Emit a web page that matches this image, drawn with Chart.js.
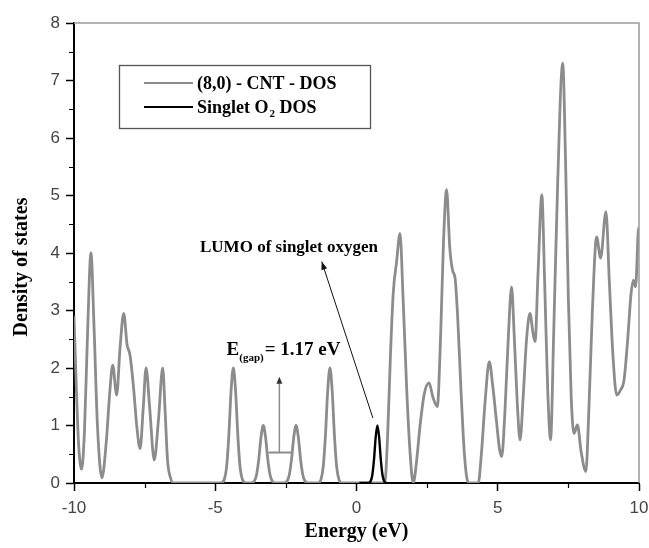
<!DOCTYPE html>
<html>
<head>
<meta charset="utf-8">
<script src="https://cdn.jsdelivr.net/npm/chart.js@4"></script>
<style>
  html, body { margin: 0; padding: 0; background: #fff; }
  #wrap { width: 649px; height: 548px; }
</style>
</head>
<body>
<div id="wrap"><canvas id="dosChart"></canvas></div>
<script>
// (8,0) CNT density of states
var cntEnergy = [
  -10.00, -9.92, -9.84, -9.73, -9.63, -9.52, -9.40, -9.29, -9.17, -9.01,
  -8.86, -8.73, -8.63, -8.49, -8.37, -8.24, -8.12, -8.02, -7.90, -7.77,
  -7.66, -7.55, -7.45, -7.32, -7.16, -7.01, -6.86, -6.77, -6.69, -6.59,
  -6.48,
  -4.80, -4.68, -4.60, -4.52, -4.44, -4.36, -4.28, -4.20, -4.12, -4.04, -3.92,
  -3.72, -3.62, -3.54, -3.46, -3.38, -3.30, -3.22, -3.14, -3.06, -2.98, -2.88,
  -2.56, -2.46, -2.38, -2.30, -2.22, -2.14, -2.06, -1.98, -1.90, -1.82, -1.72,
  -1.36, -1.26, -1.18, -1.10, -1.02, -0.94, -0.86, -0.78, -0.70, -0.62, -0.52,
  1.00, 1.10, 1.20, 1.30, 1.42, 1.54, 1.65, 1.78, 1.90, 2.01,
  2.12, 2.25, 2.40, 2.57, 2.70, 2.86, 2.98, 3.08, 3.19, 3.30,
  3.40, 3.49, 3.58, 3.70, 3.82, 3.96, 4.31, 4.42, 4.55, 4.70,
  4.82, 4.95, 5.06, 5.14, 5.25, 5.38, 5.49, 5.58, 5.69, 5.79,
  5.90, 6.02, 6.14, 6.25, 6.32, 6.43, 6.56, 6.66, 6.77, 6.87,
  6.98, 7.12, 7.30, 7.40, 7.50, 7.60, 7.70, 7.82, 7.95, 8.12,
  8.22, 8.35, 8.50, 8.64, 8.83, 8.95, 9.08, 9.21, 9.35, 9.47,
  9.60, 9.72, 9.80, 9.88, 9.97, 10.00
];
var cntDos = [
  2.90, 1.70, 0.70, 0.24, 0.90, 2.60, 4.00, 2.70, 1.00, 0.09,
  0.70, 1.60, 2.05, 1.53, 2.35, 2.95, 2.40, 2.23, 1.70, 0.95,
  0.60, 1.30, 2.00, 1.30, 0.40, 1.10, 2.00, 1.20, 0.40, 0.10,
  0.00,
  0.00, 0.06, 0.27, 0.82, 1.60, 2.00, 1.60, 0.82, 0.27, 0.06, 0.00,
  0.00, 0.03, 0.14, 0.41, 0.80, 1.00, 0.80, 0.41, 0.14, 0.03, 0.00,
  0.00, 0.03, 0.14, 0.41, 0.80, 1.00, 0.80, 0.41, 0.14, 0.03, 0.00,
  0.00, 0.06, 0.27, 0.82, 1.60, 2.00, 1.60, 0.82, 0.27, 0.06, 0.00,
  0.00, 0.80, 2.20, 3.30, 3.85, 4.34, 3.20, 1.60, 0.50, 0.00,
  0.35, 1.00, 1.55, 1.74, 1.50, 1.33, 2.60, 4.20, 5.10, 4.10,
  3.70, 3.56, 2.90, 1.60, 0.50, 0.00, 0.00, 0.50, 1.40, 2.11,
  1.70, 1.10, 0.60, 0.46, 1.20, 2.60, 3.41, 2.60, 1.40, 0.75,
  1.50, 2.50, 2.95, 2.60, 2.46, 3.70, 5.01, 3.50, 1.60, 0.75,
  2.60, 5.20, 7.30, 5.60, 3.20, 1.50, 0.86, 1.01, 0.55, 0.20,
  1.20, 3.00, 4.28, 3.91, 4.72, 3.50, 2.20, 1.53, 1.62, 1.79,
  2.50, 3.30, 3.53, 3.41, 4.35, 4.45
];

// singlet O2 DOS (LUMO peak)
var o2Energy = [0.10, 0.42, 0.50, 0.56, 0.62, 0.68, 0.74, 0.80, 0.86, 0.92, 0.98, 1.06];
var o2Dos = [0.00, 0.00, 0.03, 0.14, 0.41, 0.80, 1.00, 0.80, 0.41, 0.14, 0.03, 0.00];

var xTicks = [-10, -5, 0, 5, 10];
var yTicks = [0, 1, 2, 3, 4, 5, 6, 7, 8];
var xMinorTicks = [-7.5, -2.5, 2.5, 7.5];
var yMinorTicks = [0.5, 1.5, 2.5, 3.5, 4.5, 5.5, 6.5, 7.5];

var seriesNames = ["(8,0) - CNT - DOS", "Singlet O", "2", " DOS"];
var gapLabel = ["E", "(gap)", "= 1.17 eV"];
var lumoLabel = "LUMO of singlet oxygen";

var gray = "#8c8c8c";
var serif = "'Liberation Serif', 'Times New Roman', serif";

function toPoints(xs, ys) {
  return xs.map(function (x, i) {
    return { x: x, y: ys[i] };
  });
}

function arrowHead(ctx, x1, y1, x2, y2, len, half) {
  var ang = Math.atan2(y2 - y1, x2 - x1);
  ctx.beginPath();
  ctx.moveTo(x2, y2);
  ctx.lineTo(x2 - len * Math.cos(ang) + half * Math.sin(ang), y2 - len * Math.sin(ang) - half * Math.cos(ang));
  ctx.lineTo(x2 - len * Math.cos(ang) - half * Math.sin(ang), y2 - len * Math.sin(ang) + half * Math.cos(ang));
  ctx.closePath();
  ctx.fill();
}

// frame, minor ticks, legend, axis titles and the two annotations
var extras = {
  id: "extras",
  afterDraw: function (chart) {
    var ctx = chart.ctx;
    var a = chart.chartArea;
    var xs = chart.scales.x;
    var ys = chart.scales.y;
    ctx.save();

    // top / right frame
    ctx.strokeStyle = "#9a9a9a";
    ctx.lineWidth = 1.5;
    ctx.beginPath();
    ctx.moveTo(a.left, a.top);
    ctx.lineTo(a.right, a.top);
    ctx.lineTo(a.right, a.bottom);
    ctx.stroke();

    // minor ticks
    ctx.strokeStyle = "#000";
    ctx.lineWidth = 1.2;
    ctx.beginPath();
    xMinorTicks.forEach(function (v) {
      var px = Math.round(xs.getPixelForValue(v)) + 0.5;
      ctx.moveTo(px, a.bottom);
      ctx.lineTo(px, a.bottom + 5);
    });
    yMinorTicks.forEach(function (v) {
      var py = Math.round(ys.getPixelForValue(v)) + 0.5;
      ctx.moveTo(a.left, py);
      ctx.lineTo(a.left - 5, py);
    });
    ctx.stroke();

    // axis titles
    ctx.fillStyle = "#000";
    ctx.font = "bold 20px " + serif;
    ctx.textAlign = "center";
    ctx.textBaseline = "middle";
    ctx.fillText("Energy (eV)", (a.left + a.right) / 2, 532);
    ctx.save();
    ctx.translate(22, 267);
    ctx.rotate(-Math.PI / 2);
    ctx.fillText("Density of states", 0, 0);
    ctx.restore();

    // legend box
    var lx = a.left + 45, ly = a.top + 42;
    ctx.fillStyle = "#fff";
    ctx.fillRect(lx, ly, 251, 63);
    ctx.strokeStyle = "#555";
    ctx.lineWidth = 1.3;
    ctx.strokeRect(lx + 0.5, ly + 0.5, 251, 63);
    ctx.lineWidth = 2;
    ctx.strokeStyle = gray;
    ctx.beginPath();
    ctx.moveTo(lx + 25, ly + 18);
    ctx.lineTo(lx + 74, ly + 18);
    ctx.stroke();
    ctx.strokeStyle = "#000";
    ctx.beginPath();
    ctx.moveTo(lx + 25, ly + 42);
    ctx.lineTo(lx + 74, ly + 42);
    ctx.stroke();
    ctx.fillStyle = "#000";
    ctx.textAlign = "left";
    ctx.textBaseline = "alphabetic";
    ctx.font = "bold 18px " + serif;
    ctx.fillText(seriesNames[0], lx + 78, ly + 24);
    var tx = lx + 78;
    ctx.fillText(seriesNames[1], tx, ly + 48);
    tx += ctx.measureText(seriesNames[1]).width;
    ctx.font = "bold 11px " + serif;
    ctx.fillText(seriesNames[2], tx + 1, ly + 52);
    tx += ctx.measureText(seriesNames[2]).width + 1;
    ctx.font = "bold 18px " + serif;
    ctx.fillText(seriesNames[3], tx, ly + 48);

    // E(gap) bracket and arrow
    var bx1 = xs.getPixelForValue(-3.12), bx2 = xs.getPixelForValue(-2.29);
    var by = ys.getPixelForValue(0.53);
    var ax = xs.getPixelForValue(-2.73), ay = ys.getPixelForValue(1.85);
    ctx.strokeStyle = gray;
    ctx.lineWidth = 2;
    ctx.beginPath();
    ctx.moveTo(bx1, by);
    ctx.lineTo(bx2, by);
    ctx.stroke();
    ctx.lineWidth = 1.5;
    ctx.beginPath();
    ctx.moveTo(ax, by);
    ctx.lineTo(ax, ay + 5);
    ctx.stroke();
    ctx.fillStyle = "#333";
    arrowHead(ctx, ax, by, ax, ay, 7, 3);

    // E(gap) label
    ctx.fillStyle = "#000";
    var gx = xs.getPixelForValue(-4.6), gy = ys.getPixelForValue(2.23);
    ctx.font = "bold 19px " + serif;
    ctx.fillText(gapLabel[0], gx, gy);
    gx += ctx.measureText(gapLabel[0]).width;
    ctx.font = "bold 11px " + serif;
    ctx.fillText(gapLabel[1], gx, gy + 6);
    gx += ctx.measureText(gapLabel[1]).width + 1;
    ctx.font = "bold 19px " + serif;
    ctx.fillText(gapLabel[2], gx, gy);

    // LUMO label and arrow
    ctx.font = "bold 17px " + serif;
    ctx.fillText(lumoLabel, xs.getPixelForValue(-5.54), ys.getPixelForValue(4.02));
    var t1x = xs.getPixelForValue(0.58), t1y = ys.getPixelForValue(1.13);
    var h1x = xs.getPixelForValue(-1.23), h1y = ys.getPixelForValue(3.85);
    ctx.strokeStyle = "#111";
    ctx.lineWidth = 1;
    ctx.beginPath();
    ctx.moveTo(t1x, t1y);
    ctx.lineTo(h1x, h1y);
    ctx.stroke();
    ctx.fillStyle = "#111";
    arrowHead(ctx, t1x, t1y, h1x, h1y, 8, 3);

    ctx.restore();
  }
};

var ctx = document.getElementById("dosChart").getContext("2d");

var dosChart = new Chart(ctx, {
  type: "line",
  data: {
    datasets: [
      {
        label: "Singlet O2 DOS",
        data: toPoints(o2Energy, o2Dos),
        borderColor: "#000",
        borderWidth: 2.4,
        pointRadius: 0,
        fill: false,
        cubicInterpolationMode: "monotone",
        order: 0,
      },
      {
        label: "(8,0) - CNT - DOS",
        data: toPoints(cntEnergy, cntDos),
        borderColor: gray,
        borderWidth: 2.8,
        pointRadius: 0,
        fill: false,
        cubicInterpolationMode: "monotone",
        order: 1,
      },
    ],
  },
  options: {
    responsive: true,
    maintainAspectRatio: false,
    animation: false,
    events: [],
    layout: { padding: { left: 0, top: 23, right: 10, bottom: 0 } },
    plugins: {
      legend: { display: false },
      tooltip: { enabled: false },
    },
    scales: {
      x: {
        type: "linear",
        min: -10,
        max: 10,
        afterBuildTicks: function (scale) {
          scale.ticks = xTicks.map(function (v) { return { value: v }; });
        },
        afterFit: function (scale) {
          scale.height = 65;
          // let the "10" label hang past the plot edge as in the figure
          scale.paddingLeft = 0;
          scale.paddingRight = 0;
        },
        ticks: {
          color: "#444",
          padding: 7,
          font: { family: "'Liberation Sans', Arial, sans-serif", size: 17 },
        },
        grid: {
          drawOnChartArea: false,
          tickLength: 8,
          tickColor: "#000",
          tickWidth: 1.5,
        },
        border: { color: "#000", width: 2 },
      },
      y: {
        min: 0,
        max: 8,
        afterBuildTicks: function (scale) {
          scale.ticks = yTicks.map(function (v) { return { value: v }; });
        },
        afterFit: function (scale) { scale.width = 74; },
        ticks: {
          color: "#444",
          padding: 6,
          font: { family: "'Liberation Sans', Arial, sans-serif", size: 17 },
        },
        grid: {
          drawOnChartArea: false,
          tickLength: 8,
          tickColor: "#000",
          tickWidth: 1.5,
        },
        border: { color: "#000", width: 2 },
      },
    },
  },
  plugins: [extras],
});
</script>
</body>
</html>
